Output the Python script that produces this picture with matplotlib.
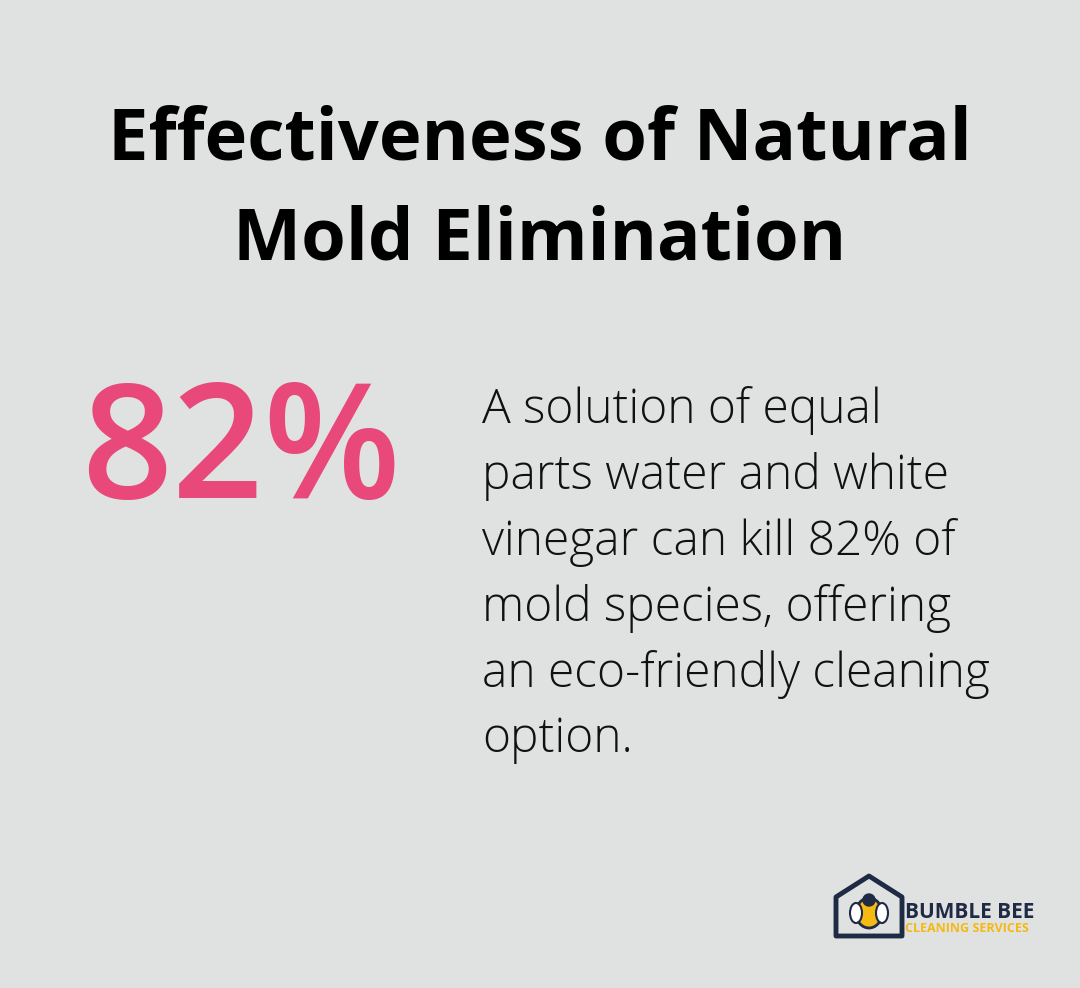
import matplotlib
matplotlib.use("Agg")
import matplotlib.pyplot as plt
from matplotlib.patches import Polygon, Circle, Ellipse

title_lines = ["Effectiveness of Natural", "Mold Elimination"]
stat_value = "82%"
body_lines = ["A solution of equal", "parts water and white", "vinegar can kill 82% of",
              "mold species, offering", "an eco-friendly cleaning", "option."]
logo_top = "BUMBLE BEE"
logo_bottom = "CLEANING SERVICES"

W, H = 1080, 988
fig = plt.figure(figsize=(W/100, H/100), dpi=100)
fig.patch.set_facecolor("#E0E2E1")
ax = fig.add_axes([0, 0, 1, 1])
ax.set_xlim(0, W); ax.set_ylim(H, 0); ax.axis("off")

for i, t in enumerate(title_lines):
    ax.text(540, 140 + i*100, t, ha="center", va="center", fontsize=52,
            fontweight="bold", family="Open Sans", color="#000000")

ax.text(241, 456, stat_value, ha="center", va="center", fontsize=115,
        family="Open Sans", fontweight="semibold", color="#E8487A")

for i, t in enumerate(body_lines):
    ax.text(482, 410 + i*66, t, ha="left", va="center", fontsize=34.5,
            family="Open Sans", fontweight="light", color="#111111")

# logo
navy = "#1F2A44"
ax.add_patch(Polygon([[836, 936], [836, 897], [869, 876], [902, 897], [902, 936]],
                     closed=True, fill=False, ec=navy, lw=3.5, joinstyle="round"))
ax.add_patch(Ellipse((869, 913), 26, 30, fc="#F5B914", ec=navy, lw=2))
ax.add_patch(Ellipse((856, 913), 12, 20, fc="white", ec=navy, lw=1.5))
ax.add_patch(Ellipse((882, 913), 12, 20, fc="white", ec=navy, lw=1.5))
ax.add_patch(Circle((869, 900), 6, fc=navy, ec=navy))
ax.text(905, 912, logo_top, ha="left", va="center", fontsize=15,
        fontweight="bold", family="Open Sans", color=navy)
ax.text(905, 928, logo_bottom, ha="left", va="center", fontsize=9,
        fontweight="bold", family="Open Sans", color="#F5B914")

fig.savefig("out.png", dpi=100, facecolor=fig.get_facecolor())
